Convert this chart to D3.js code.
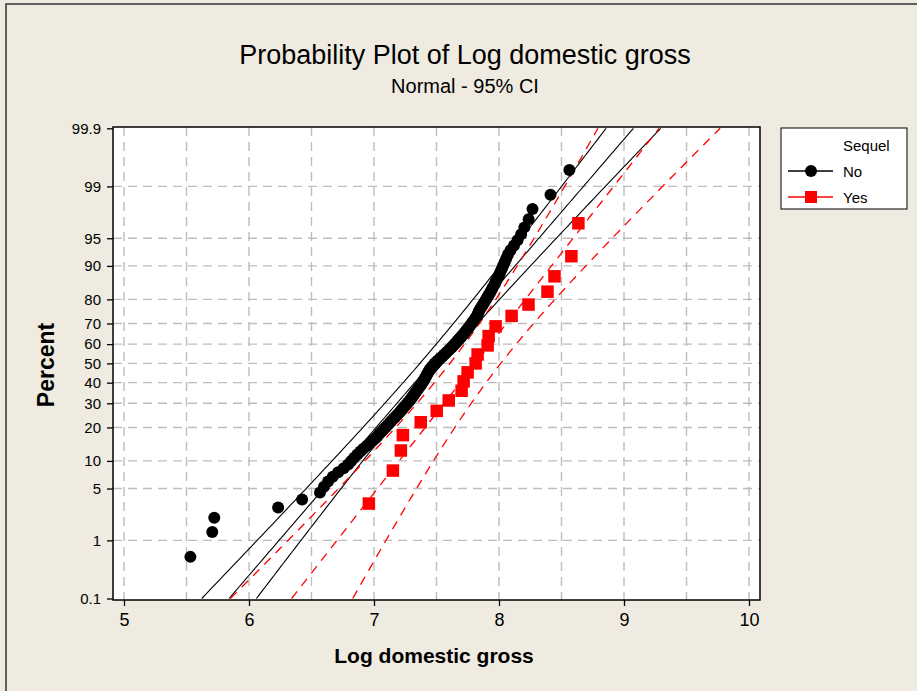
<!DOCTYPE html>
<html>
<head>
<meta charset="utf-8">
<script src="https://cdn.jsdelivr.net/npm/d3@7/dist/d3.min.js"></script>
<style>
  body { margin: 0; background: #efebe0; }
  svg { display: block; }
  text { font-family: "Liberation Sans", Arial, sans-serif; fill: #000; }
</style>
</head>
<body>
<svg id="chart" width="917" height="691"></svg>
<script>
// Log domestic gross, Sequel = No (sorted)
var noValues = [
  5.531, 5.706, 5.722, 6.233, 6.425, 6.568, 6.600, 6.632, 6.670, 6.713,
  6.757, 6.793, 6.818, 6.842, 6.867, 6.891, 6.915, 6.941, 6.965, 6.990,
  7.012, 7.029, 7.045, 7.062, 7.079, 7.096, 7.112, 7.126, 7.141, 7.156,
  7.170, 7.185, 7.199, 7.212, 7.224, 7.236, 7.248, 7.260, 7.272, 7.284,
  7.295, 7.304, 7.314, 7.322, 7.331, 7.341, 7.350, 7.358, 7.368, 7.377,
  7.386, 7.393, 7.400, 7.407, 7.413, 7.420, 7.426, 7.433, 7.440, 7.446,
  7.456, 7.466, 7.476, 7.486, 7.499, 7.511, 7.524, 7.538, 7.551, 7.563,
  7.576, 7.589, 7.602, 7.614, 7.626, 7.637, 7.649, 7.660, 7.672, 7.683,
  7.694, 7.705, 7.716, 7.726, 7.736, 7.746, 7.757, 7.766, 7.777, 7.787,
  7.796, 7.807, 7.817, 7.825, 7.832, 7.838, 7.844, 7.854, 7.864, 7.875,
  7.884, 7.895, 7.905, 7.915, 7.926, 7.936, 7.946, 7.957, 7.968, 7.978,
  7.989, 8.000, 8.010, 8.022, 8.033, 8.045, 8.058, 8.072, 8.092, 8.120,
  8.148, 8.177, 8.203, 8.237, 8.268, 8.412, 8.563
];
// Sequel = Yes
var yesValues = [
  6.959, 7.151, 7.215, 7.231, 7.374, 7.502, 7.598, 7.701, 7.717, 7.749,
  7.813, 7.829, 7.909, 7.917, 7.973, 8.101, 8.236, 8.388, 8.444, 8.579, 8.635
];

var xTicks = [5, 6, 7, 8, 9, 10];
var xGrid = [5, 5.5, 6, 6.5, 7, 7.5, 8, 8.5, 9, 9.5, 10];
var pctTicks = [0.1, 1, 5, 10, 20, 30, 40, 50, 60, 70, 80, 90, 95, 99, 99.9];
var pctGrid = [1, 5, 10, 20, 30, 40, 50, 60, 70, 80, 90, 95, 99];

// inverse normal cdf (Acklam)
function probit(p) {
  var a = [-3.969683028665376e+01, 2.209460984245205e+02, -2.759285104469687e+02, 1.383577518672690e+02, -3.066479806614716e+01, 2.506628277459239e+00];
  var b = [-5.447609879822406e+01, 1.615858368580409e+02, -1.556989798598866e+02, 6.680131188771972e+01, -1.328068155288572e+01];
  var c = [-7.784894002430293e-03, -3.223964580411365e-01, -2.400758277161838e+00, -2.549732539343734e+00, 4.374664141464968e+00, 2.938163982698783e+00];
  var d = [7.784695709041462e-03, 3.224671290700398e-01, 2.445134137142996e+00, 3.754408661907416e+00];
  var pl = 0.02425, q, r;
  if (p < pl) {
    q = Math.sqrt(-2 * Math.log(p));
    return (((((c[0]*q+c[1])*q+c[2])*q+c[3])*q+c[4])*q+c[5]) / ((((d[0]*q+d[1])*q+d[2])*q+d[3])*q+1);
  }
  if (p > 1 - pl) {
    q = Math.sqrt(-2 * Math.log(1 - p));
    return -(((((c[0]*q+c[1])*q+c[2])*q+c[3])*q+c[4])*q+c[5]) / ((((d[0]*q+d[1])*q+d[2])*q+d[3])*q+1);
  }
  q = p - 0.5; r = q * q;
  return (((((a[0]*r+a[1])*r+a[2])*r+a[3])*r+a[4])*r+a[5])*q / (((((b[0]*r+b[1])*r+b[2])*r+b[3])*r+b[4])*r+1);
}

var svg = d3.select("#chart");
var plot = { left: 113, right: 760, top: 127, bottom: 600 };

var x = d3.scaleLinear().domain([5, 10]).range([124, 749]);
var zMin = probit(0.001), zMax = probit(0.999);
var z = d3.scaleLinear().domain([zMin, zMax]).range([598.5, 128.3]);
function yPct(p) { return z(probit(p / 100)); }

// outer frame
svg.append("rect").attr("x", 6).attr("y", 4).attr("width", 940).attr("height", 720)
  .attr("fill", "#efebe0").attr("stroke", "#333").attr("stroke-width", 1.5);

// plot area
svg.append("rect").attr("x", plot.left).attr("y", plot.top)
  .attr("width", plot.right - plot.left).attr("height", plot.bottom - plot.top)
  .attr("fill", "#fff");

svg.append("clipPath").attr("id", "clip").append("rect")
  .attr("x", plot.left).attr("y", plot.top)
  .attr("width", plot.right - plot.left).attr("height", plot.bottom - plot.top);

var grid = svg.append("g").attr("stroke", "#bdbdbd").attr("stroke-width", 1.4)
  .attr("stroke-dasharray", "9,6");
grid.selectAll(".vg").data(xGrid).enter().append("line")
  .attr("x1", d => x(d)).attr("x2", d => x(d))
  .attr("y1", plot.top).attr("y2", plot.bottom);
grid.selectAll(".hg").data(pctGrid).enter().append("line")
  .attr("x1", plot.left).attr("x2", plot.right)
  .attr("y1", d => yPct(d)).attr("y2", d => yPct(d));

// fitted normal lines with 95% CI
var zs = d3.range(zMin, zMax + 0.001, (zMax - zMin) / 120);
function fitLines(values) {
  var mu = d3.mean(values), sd = d3.deviation(values), n = values.length;
  var half = zz => 1.96 * sd * Math.sqrt((1 + zz * zz / 2) / n);
  return [
    zs.map(zz => [mu + sd * zz - half(zz), zz]),
    zs.map(zz => [mu + sd * zz, zz]),
    zs.map(zz => [mu + sd * zz + half(zz), zz])
  ];
}
var line = d3.line().x(d => x(d[0])).y(d => z(d[1]));

var lines = svg.append("g").attr("clip-path", "url(#clip)").attr("fill", "none");
lines.selectAll(".no").data(fitLines(noValues)).enter().append("path")
  .attr("d", line).attr("stroke", "#000").attr("stroke-width", 1.1);
lines.selectAll(".yes").data(fitLines(yesValues)).enter().append("path")
  .attr("d", line).attr("stroke", "#ff0000").attr("stroke-width", 1.3)
  .attr("stroke-dasharray", "9,7");

// plotting positions: median ranks (i - 0.3) / (n + 0.4)
function ranked(values) {
  var n = values.length;
  return values.slice().sort(d3.ascending).map((v, i) => [v, probit((i + 1 - 0.3) / (n + 0.4))]);
}

svg.append("g").selectAll("circle").data(ranked(noValues)).enter().append("circle")
  .attr("cx", d => x(d[0])).attr("cy", d => z(d[1])).attr("r", 6).attr("fill", "#000");

var sq = 12.5;
svg.append("g").selectAll("rect").data(ranked(yesValues)).enter().append("rect")
  .attr("x", d => x(d[0]) - sq / 2).attr("y", d => z(d[1]) - sq / 2)
  .attr("width", sq).attr("height", sq).attr("fill", "#ff0000");

// frame
svg.append("rect").attr("x", plot.left).attr("y", plot.top)
  .attr("width", plot.right - plot.left).attr("height", plot.bottom - plot.top)
  .attr("fill", "none").attr("stroke", "#000").attr("stroke-width", 1.5);

// axes
var yAxis = d3.axisLeft(z)
  .tickValues(pctTicks.map(p => probit(p / 100)))
  .tickFormat((d, i) => pctTicks[i])
  .tickSize(6).tickPadding(6);
var gy = svg.append("g").attr("transform", "translate(" + plot.left + ",0)").call(yAxis);
gy.select(".domain").remove();
gy.selectAll("text").style("font-size", "15px").attr("fill", "#000");
gy.selectAll("line").attr("stroke", "#000").attr("stroke-width", 1.3);

var xAxis = d3.axisBottom(x).tickValues(xTicks).tickFormat(d3.format("d"))
  .tickSize(6).tickPadding(7);
var gx = svg.append("g").attr("transform", "translate(0," + plot.bottom + ")").call(xAxis);
gx.select(".domain").remove();
gx.selectAll("text").style("font-size", "18px").attr("fill", "#000");
gx.selectAll("line").attr("stroke", "#000").attr("stroke-width", 1.3);

// titles
svg.append("text").attr("x", 465).attr("y", 64).attr("text-anchor", "middle")
  .style("font-size", "27px").text("Probability Plot of Log domestic gross");
svg.append("text").attr("x", 465).attr("y", 93).attr("text-anchor", "middle")
  .style("font-size", "20px").text("Normal - 95% CI");
svg.append("text").attr("x", 434).attr("y", 663).attr("text-anchor", "middle")
  .style("font-size", "21px").style("font-weight", "bold").text("Log domestic gross");
svg.append("text").attr("transform", "translate(54,365) rotate(-90)").attr("text-anchor", "middle")
  .style("font-size", "23px").style("font-weight", "bold").text("Percent");

// legend
var lg = svg.append("g");
lg.append("rect").attr("x", 781).attr("y", 128).attr("width", 126).attr("height", 81)
  .attr("fill", "#fff").attr("stroke", "#000").attr("stroke-width", 1);
lg.append("text").attr("x", 843).attr("y", 151).style("font-size", "15px").text("Sequel");
var legendItems = [
  { name: "No", color: "#000", y: 171, shape: "circle" },
  { name: "Yes", color: "#ff0000", y: 197, shape: "square" }
];
legendItems.forEach(function(it) {
  lg.append("line").attr("x1", 788).attr("x2", 833).attr("y1", it.y).attr("y2", it.y)
    .attr("stroke", it.color).attr("stroke-width", 1.3);
  if (it.shape === "circle") {
    lg.append("circle").attr("cx", 811).attr("cy", it.y).attr("r", 6).attr("fill", it.color);
  } else {
    lg.append("rect").attr("x", 811 - 6).attr("y", it.y - 6).attr("width", 12).attr("height", 12)
      .attr("fill", it.color);
  }
  lg.append("text").attr("x", 843).attr("y", it.y + 5.5).style("font-size", "15px").text(it.name);
});
</script>
</body>
</html>
